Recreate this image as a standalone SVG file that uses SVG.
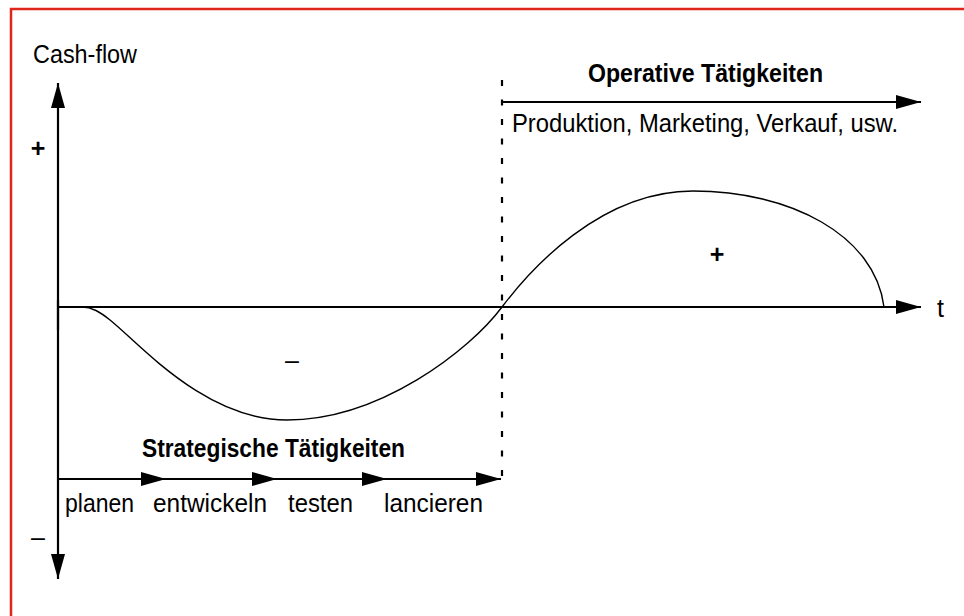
<svg xmlns="http://www.w3.org/2000/svg" width="964" height="616" viewBox="0 0 964 616">
<style>
.t{font-family:"Liberation Sans Narrow","Liberation Sans",Arial,sans-serif;font-size:25px;fill:#000}
.b{font-weight:bold}
.ax{stroke:#000;stroke-width:2.2;fill:none}
.cv{stroke:#000;stroke-width:1.4;fill:none}
.ds{stroke:#000;stroke-width:2.2;stroke-dasharray:6 13.5;fill:none}
</style>
<defs>
<marker id="ah" markerUnits="userSpaceOnUse" markerWidth="26" markerHeight="14" refX="25" refY="7" orient="auto">
<path d="M0,0 L25,7 L0,14 Z" fill="#000"/>
</marker>
</defs>
<rect width="964" height="616" fill="#fff"/>
<path d="M11,616 L11,9 L964,9" fill="none" stroke="#e0261a" stroke-width="2.5"/>
<g id="connectors">
<path class="ax" d="M58,330 L58,83" marker-end="url(#ah)"/>
<path class="ax" d="M58,300 L58,579" marker-end="url(#ah)"/>
<path class="ax" d="M58,307 L921,307" marker-end="url(#ah)"/>
<path class="ax" d="M58,479 L166,479" marker-end="url(#ah)"/>
<path class="ax" d="M160,479 L277,479" marker-end="url(#ah)"/>
<path class="ax" d="M270,479 L387,479" marker-end="url(#ah)"/>
<path class="ax" d="M380,479 L501,479" marker-end="url(#ah)"/>
<path class="ax" d="M502,102 L921,102" marker-end="url(#ah)"/>
<path class="ds" d="M502,80 L502,480"/>
<path class="cv" d="M58,307 L82,307 C92,307 100,312 110,320 C140,344 205,420 287,420 C380,420 470,350 502,307 C530,270 600,191 693,191 C790,191 875,235 884,307"/>
</g>
<g id="labels">
<text class="t" x="33" y="63" textLength="104" lengthAdjust="spacingAndGlyphs">Cash-flow</text>
<text class="t b" x="38" y="157" text-anchor="middle">+</text>
<text class="t" x="38" y="546" text-anchor="middle">–</text>
<text class="t" x="292" y="369" text-anchor="middle">–</text>
<text class="t b" x="717" y="263" text-anchor="middle">+</text>
<text class="t" x="937" y="317">t</text>
<text class="t b" x="588" y="82" textLength="235" lengthAdjust="spacingAndGlyphs">Operative Tätigkeiten</text>
<text class="t" x="512" y="132" textLength="386" lengthAdjust="spacingAndGlyphs">Produktion, Marketing, Verkauf, usw.</text>
<text class="t b" x="142" y="457" textLength="263" lengthAdjust="spacingAndGlyphs">Strategische Tätigkeiten</text>
<text class="t" x="65" y="512" textLength="69" lengthAdjust="spacingAndGlyphs">planen</text>
<text class="t" x="153" y="512" textLength="114" lengthAdjust="spacingAndGlyphs">entwickeln</text>
<text class="t" x="288" y="512" textLength="65" lengthAdjust="spacingAndGlyphs">testen</text>
<text class="t" x="384" y="512" textLength="99" lengthAdjust="spacingAndGlyphs">lancieren</text>
</g>
</svg>
